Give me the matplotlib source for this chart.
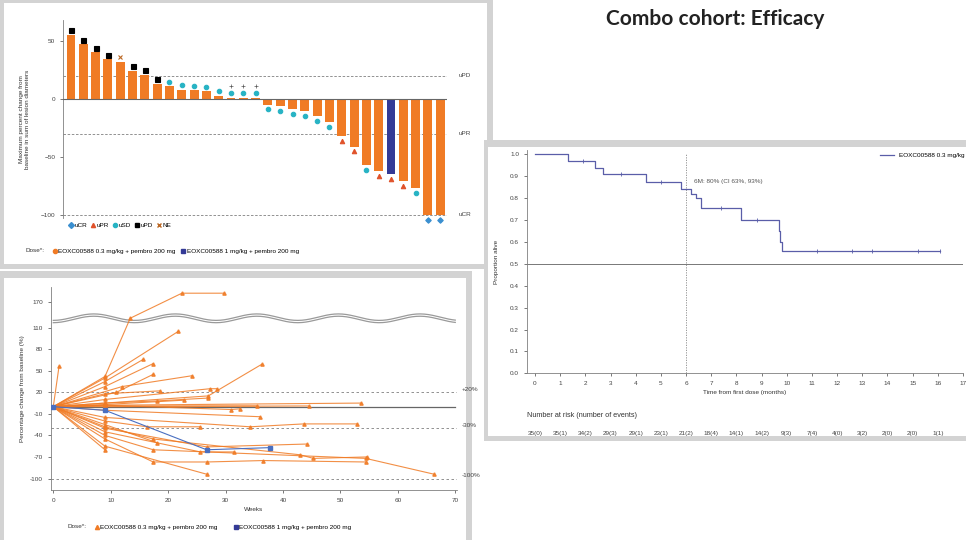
import matplotlib
matplotlib.use("Agg")
import matplotlib.pyplot as plt
import numpy as np
from matplotlib.lines import Line2D
from matplotlib.patches import Rectangle
import matplotlib.transforms as mtransforms

W, H = 966, 540

# ---- waterfall: best % change per patient, sorted ----
wf_change = [55, 47, 40, 34, 32, 24, 21, 13, 11, 8, 7.5, 6.5, 2.5, 1.2, 1.0, 0.8,
             -5, -6, -9, -10.5, -15, -20, -32, -41, -57, -62, -65, -71, -77, -100, -100]
wf_dose = ["low"] * 26 + ["high"] + ["low"] * 4
wf_resp = ["PD", "PD", "PD", "PD", "NE", "PD", "PD", "PD",
           "SD", "SD", "SD", "SD", "SD", "SD", "SD", "SD",
           "SD", "SD", "SD", "SD", "SD", "SD", "PR", "PR",
           "SD", "PR", "PR", "PR", "SD", "CR", "CR"]
wf_ongoing = [13, 14, 15]

# ---- spider: % change from baseline over weeks, one list per patient ----
sp_weeks = [
    [0, 1], [0, 9, 13.4, 22.4, 29.7], [0, 9, 21.8], [0, 9, 15.7], [0, 9, 17.4],
    [0, 11, 17.4], [0, 12, 24.1], [0, 9, 27, 36.3], [0, 9, 18.6], [0, 9, 27.3, 28.5],
    [0, 9, 18, 27], [0, 9, 22.7], [0, 9, 31, 32.5], [0, 9, 35.5], [0, 9, 44.5],
    [0, 9, 53.6], [0, 9, 36], [0, 9, 16.3, 25.6], [0, 9, 34.3, 43.6, 52.9],
    [0, 9, 26.7, 44.2], [0, 9, 25.6, 31.4], [0, 9, 17.4, 43, 45.3, 54.6],
    [0, 9, 17.4, 26.7, 36.6, 54.4], [0, 9, 26.7], [0, 9, 17.4, 54.4, 66.3],
    [0, 9], [0, 9, 18],
]
sp_change = [
    [0, 56], [0, 42, 126, 193, 193], [0, 40, 105], [0, 35, 66], [0, 28, 60],
    [0, 20, 45], [0, 28, 43], [0, 5, 15, 59], [0, 18, 22], [0, 10, 25, 25],
    [0, 5, 8, 12], [0, 3, 9], [0, 2, -4, -3], [0, 1, 1], [0, 0, 1],
    [0, 2, 5], [0, -5, -14], [0, -20, -28, -28], [0, -15, -28, -24, -24],
    [0, -30, -56, -52], [0, -35, -63, -63], [0, -28, -45, -67, -72, -70],
    [0, -45, -77, -77, -75, -77], [0, -55, -94], [0, -40, -60, -72, -94],
    [0, -60], [0, -25, -50],
]
sp_blue_weeks = [0, 9, 26.7, 37.8]
sp_blue_change = [0, -5, -60, -57]

# ---- Kaplan-Meier ----
km_time = [0, 1.3, 2.4, 2.7, 4.4, 5.8, 6.2, 6.4, 6.6, 8.2, 9.7, 9.75, 9.8, 16.1]
km_surv = [1.0, 0.97, 0.94, 0.912, 0.874, 0.84, 0.82, 0.80, 0.755, 0.70, 0.65, 0.60, 0.558, 0.558]
km_censor_t = [1.9, 3.4, 5.0, 7.4, 8.8, 11.2, 12.6, 13.4, 15.2, 16.1]
km_months = list(range(18))
km_at_risk = ["35(0)", "35(1)", "34(2)", "29(3)", "29(1)", "23(1)", "21(2)", "18(4)", "14(1)",
              "14(2)", "9(3)", "7(4)", "4(0)", "3(2)", "2(0)", "2(0)", "1(1)"]

drug = "EOXC00588"
ORANGE = "#f07b25"
NAVY = "#343a96"
TEAL = "#27b3c4"
GREY = "#808080"
FS = 4.6

plt.rcParams["font.family"] = ["Liberation Sans", "DejaVu Sans"]


def frac(x0, y0, x1, y1):
    return [x0 / W, 1 - y1 / H, (x1 - x0) / W, (y1 - y0) / H]


def panel(fig, x0, y0, x1, y1):
    # soft grey frame with a white card inside
    fig.add_artist(Rectangle((x0 / W, 1 - y1 / H), (x1 - x0) / W, (y1 - y0) / H,
                             transform=fig.transFigure, facecolor="#d3d3d3", edgecolor="none", zorder=0))
    fig.add_artist(Rectangle(((x0 + 4) / W, 1 - (y1 - 5) / H), (x1 - x0 - 10) / W, (y1 - y0 - 12) / H,
                             transform=fig.transFigure, facecolor="white", edgecolor="none", zorder=0))


fig = plt.figure(figsize=(9.66, 5.4), dpi=100)
fig.patch.set_facecolor("white")

panel(fig, 0, -4, 493, 269)
panel(fig, 0, 271, 472, 545)
panel(fig, 484, 140, 972, 441)

fig.text(715 / W, 1 - 19 / H, "Combo cohort: Efficacy", ha="center", va="center",
         fontsize=15, fontweight="bold", family=["Lato", "DejaVu Sans"], color="#222222")

# ---------------- waterfall ----------------
ax = fig.add_axes(frac(63, 20, 447, 218))
x = np.arange(len(wf_change))
colors = [NAVY if d == "high" else ORANGE for d in wf_dose]
ax.bar(x, wf_change, width=0.72, color=colors, zorder=2)
ax.set_xlim(-0.65, len(x) - 0.45)
ax.set_ylim(-102.6, 68)
for lvl in (20, -30, -100):
    ax.axhline(lvl, color=GREY, lw=0.6, ls=(0, (3, 2)), zorder=1)
ax.axhline(0, color="#666666", lw=0.8, zorder=3)

resp_style = {
    "PD": dict(marker="s", color="black", ms=3.6),
    "SD": dict(marker="o", color=TEAL, ms=3.2),
    "PR": dict(marker="^", color="#e0522a", ms=3.2),
    "CR": dict(marker="D", color="#3a8fd0", ms=2.8),
    "NE": dict(marker="x", color="#bb6622", ms=3.0),
}
for i, (v, r) in enumerate(zip(wf_change, wf_resp)):
    off = 4 if v >= 0 else -4
    st = resp_style[r]
    ax.plot(i, v + off, linestyle="none", marker=st["marker"], color=st["color"],
            ms=st["ms"], mew=0.8, zorder=4, clip_on=False)
for i in wf_ongoing:
    ax.plot(i, wf_change[i] + 10, marker="+", color="#555555", ms=2.5, mew=0.5, zorder=4)

for s in ("top", "right", "bottom"):
    ax.spines[s].set_visible(False)
ax.spines["left"].set_color(GREY)
ax.spines["left"].set_linewidth(0.6)
ax.set_xticks([])
ax.set_yticks([-100, -50, 0, 50])
ax.tick_params(axis="y", labelsize=FS, length=2, width=0.5, colors="#444444")
ax.set_ylabel("Maximum percent change from\nbaseline in sum of lesion diameters",
              fontsize=FS, color="#333333", labelpad=8, linespacing=1.1)
for lvl, lab in ((20, "uPD"), (-30, "uPR"), (-100, "uCR")):
    ax.text(len(x) + 0.5, lvl, lab, fontsize=FS, color="#444444", va="center", ha="left")

resp_handles = [Line2D([], [], linestyle="none", marker=resp_style[k]["marker"],
                       color=resp_style[k]["color"], ms=3, label=lab)
                for k, lab in (("CR", "uCR"), ("PR", "uPR"), ("SD", "uSD"), ("PD", "uPD"), ("NE", "NE"))]
fig.legend(handles=resp_handles, loc="center left", bbox_to_anchor=(66 / W, 1 - 225 / H),
           ncol=5, fontsize=FS, frameon=False, handletextpad=0.1, columnspacing=0.6,
           handlelength=0.8, borderaxespad=0)

fig.text(25 / W, 1 - 251 / H, "Dose*:", fontsize=FS, va="center", color="#333333")
dose_handles = [Line2D([], [], linestyle="none", marker="o", color=ORANGE, ms=3,
                       label=f"{drug} 0.3 mg/kg + pembro 200 mg"),
                Line2D([], [], linestyle="none", marker="s", color=NAVY, ms=3,
                       label=f"{drug} 1 mg/kg + pembro 200 mg")]
fig.legend(handles=dose_handles, loc="center left", bbox_to_anchor=(50 / W, 1 - 251 / H),
           ncol=2, fontsize=FS, frameon=False, handletextpad=0.1, columnspacing=0.8,
           handlelength=0.8, borderaxespad=0)

# ---------------- spider ----------------
def break_map(v):
    v = np.asarray(v, dtype=float)
    return np.where(v > 120, 120 + (v - 120) * 0.52, v)


ax2 = fig.add_axes(frac(50.7, 286.7, 457, 490))
ax2.set_xlim(-0.45, 70.3)
ax2.set_ylim(-116, 167)
for lvl in (20, -30, -100):
    ax2.axhline(lvl, color=GREY, lw=0.6, ls=(0, (3, 3)), zorder=1)
ax2.plot([0, 70], [0, 0], color="#666666", lw=0.9, zorder=1)

for wk, ch in zip(sp_weeks, sp_change):
    ax2.plot(wk, break_map(ch), color=ORANGE, lw=0.8, alpha=0.85, marker="^", ms=2.4, zorder=3)
ax2.plot(sp_blue_weeks, sp_blue_change, color="#4a6fc0", lw=0.8, marker="s", ms=2.4, zorder=3)

# axis break
wx = np.linspace(0, 70, 300)
wave = 4.5 * np.sin(2 * np.pi * (wx - 3.5) / 14.2)
for dy in (-1.6, 1.6):
    ax2.plot(wx, 123 + dy + wave, color="#9a9a9a", lw=0.9, zorder=2)

ax2.set_yticks([-100, -70, -40, -10, 20, 50, 80, 110, 146])
ax2.set_yticklabels(["-100", "-70", "-40", "-10", "20", "50", "80", "110", "170"])
ax2.set_xticks(range(0, 71, 10))
ax2.tick_params(labelsize=FS, length=2, width=0.5, colors="#444444")
for s in ("top", "right"):
    ax2.spines[s].set_visible(False)
for s in ("left", "bottom"):
    ax2.spines[s].set_color(GREY)
    ax2.spines[s].set_linewidth(0.6)
ax2.set_xlabel("Weeks", fontsize=FS, color="#333333", labelpad=3)
ax2.set_ylabel("Percentage change from baseline (%)", fontsize=FS, color="#333333", labelpad=4)
for lvl, lab in ((20, "+20%"), (-30, "-30%"), (-100, "-100%")):
    ax2.text(71.2, lvl + 4, lab, fontsize=FS, color="#444444", va="center", ha="left")

fig.text(68 / W, 1 - 527 / H, "Dose*:", fontsize=FS, va="center", color="#333333")
sp_handles = [Line2D([], [], linestyle="none", marker="^", color=ORANGE, ms=3,
                     label=f"{drug} 0.3 mg/kg + pembro 200 mg"),
              Line2D([], [], linestyle="none", marker="s", color=NAVY, ms=3,
                     label=f"{drug} 1 mg/kg + pembro 200 mg")]
fig.legend(handles=sp_handles, loc="center left", bbox_to_anchor=(92 / W, 1 - 527 / H),
           ncol=2, fontsize=FS, frameon=False, handletextpad=0.1, columnspacing=2.5,
           handlelength=0.8, borderaxespad=0)

# ---------------- Kaplan-Meier ----------------
ax3 = fig.add_axes(frac(526.7, 150, 963, 373.3))
ax3.set_xlim(-0.33, 17.0)
ax3.set_ylim(0, 1.02)
ax3.step(km_time, km_surv, where="post", color="#5a5ea8", lw=0.9, zorder=3,
         label=f"{drug} 0.3 mg/kg")
cens_s = [km_surv[np.searchsorted(km_time, t, side="right") - 1] for t in km_censor_t]
ax3.plot(km_censor_t, cens_s, linestyle="none", marker="|", color="#5a5ea8", ms=3, mew=0.6)
ax3.axhline(0.5, color="#777777", lw=0.7, zorder=1)
ax3.plot([6, 6], [0, 1.0], color="#888888", lw=0.6, ls=(0, (1.5, 1.5)), zorder=1)
ax3.text(6.3, 0.875, "6M: 80% (CI 63%, 93%)", fontsize=FS, color="#555555", va="center")
ax3.legend(loc="upper right", bbox_to_anchor=(1.01, 1.0), fontsize=FS, frameon=False,
           handlelength=2.2, borderaxespad=0)

ax3.set_yticks(np.arange(0, 1.01, 0.1))
ax3.set_yticklabels([f"{v:.1f}" for v in np.arange(0, 1.01, 0.1)])
ax3.set_xticks(km_months)
ax3.tick_params(labelsize=FS, length=2, width=0.5, colors="#444444")
for s in ("top", "right"):
    ax3.spines[s].set_visible(False)
for s in ("left", "bottom"):
    ax3.spines[s].set_color(GREY)
    ax3.spines[s].set_linewidth(0.6)
ax3.set_ylabel("Proportion alive", fontsize=FS, color="#333333", labelpad=8)
ax3.set_xlabel("Time from first dose (months)", fontsize=FS, color="#333333", labelpad=3)

trans = mtransforms.blended_transform_factory(ax3.transData, ax3.transAxes)
ax3.text(0, -0.19, "Number at risk (number of events)", transform=ax3.transAxes,
         fontsize=FS + 0.6, color="#333333", va="center", ha="left")
for m, lab in zip(km_months, km_at_risk):
    ax3.text(m, -0.268, lab, transform=trans, fontsize=FS, color="#444444",
             va="center", ha="center")

fig.savefig("out.png", dpi=100, facecolor="white")
